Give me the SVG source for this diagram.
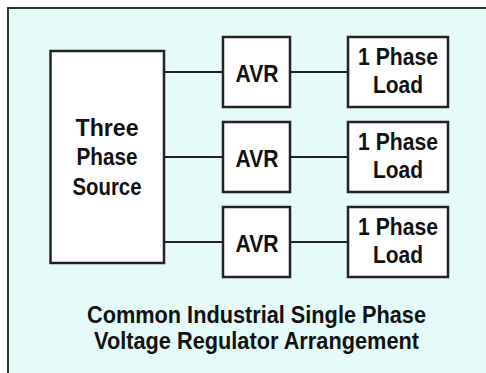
<svg xmlns="http://www.w3.org/2000/svg" width="486" height="373" viewBox="0 0 486 373">
<style>
.bg{fill:#e4fbf9}
.frame{fill:none;stroke:#333;stroke-width:2}
.box{fill:#fff;stroke:#222;stroke-width:2.5}
.wire{fill:none;stroke:#222;stroke-width:2}
text{font-family:"Liberation Sans",Arial,sans-serif;font-weight:bold;fill:#111;text-anchor:middle}
.lbl{font-size:23px}
.title{font-size:23px}
</style>
<rect class="bg" x="8" y="8" width="480" height="370"/>
<path class="frame" d="M8,374 V8 H487"/>
<g id="connectors">
<path class="wire" d="M164,72 H223 M290,72 H348"/>
<path class="wire" d="M164,157 H223 M290,157 H348"/>
<path class="wire" d="M164,242 H223 M290,242 H348"/>
</g>
<g id="source">
<rect class="box" x="50.5" y="51" width="113.5" height="212"/>
<text class="lbl" x="107" y="136" textLength="63" lengthAdjust="spacingAndGlyphs">Three</text>
<text class="lbl" x="107" y="165" textLength="61" lengthAdjust="spacingAndGlyphs">Phase</text>
<text class="lbl" x="107" y="195" textLength="69" lengthAdjust="spacingAndGlyphs">Source</text>
</g>
<g id="avr1">
<rect class="box" x="223" y="37" width="67" height="70"/>
<text class="lbl" x="257" y="81.5" textLength="43" lengthAdjust="spacingAndGlyphs">AVR</text>
</g>
<g id="avr2">
<rect class="box" x="223" y="122" width="67" height="70"/>
<text class="lbl" x="257" y="166.5" textLength="43" lengthAdjust="spacingAndGlyphs">AVR</text>
</g>
<g id="avr3">
<rect class="box" x="223" y="207" width="67" height="70"/>
<text class="lbl" x="257" y="251.5" textLength="43" lengthAdjust="spacingAndGlyphs">AVR</text>
</g>
<g id="load1">
<rect class="box" x="348" y="37" width="100" height="70"/>
<text class="lbl" x="398" y="65" textLength="80" lengthAdjust="spacingAndGlyphs">1 Phase</text>
<text class="lbl" x="398" y="93" textLength="50" lengthAdjust="spacingAndGlyphs">Load</text>
</g>
<g id="load2">
<rect class="box" x="348" y="122" width="100" height="70"/>
<text class="lbl" x="398" y="150" textLength="80" lengthAdjust="spacingAndGlyphs">1 Phase</text>
<text class="lbl" x="398" y="178" textLength="50" lengthAdjust="spacingAndGlyphs">Load</text>
</g>
<g id="load3">
<rect class="box" x="348" y="207" width="100" height="70"/>
<text class="lbl" x="398" y="235" textLength="80" lengthAdjust="spacingAndGlyphs">1 Phase</text>
<text class="lbl" x="398" y="263" textLength="50" lengthAdjust="spacingAndGlyphs">Load</text>
</g>
<g id="title">
<text class="title" x="256.5" y="322.5" textLength="339" lengthAdjust="spacingAndGlyphs">Common Industrial Single Phase</text>
<text class="title" x="256.5" y="349" textLength="325" lengthAdjust="spacingAndGlyphs">Voltage Regulator Arrangement</text>
</g>
</svg>
